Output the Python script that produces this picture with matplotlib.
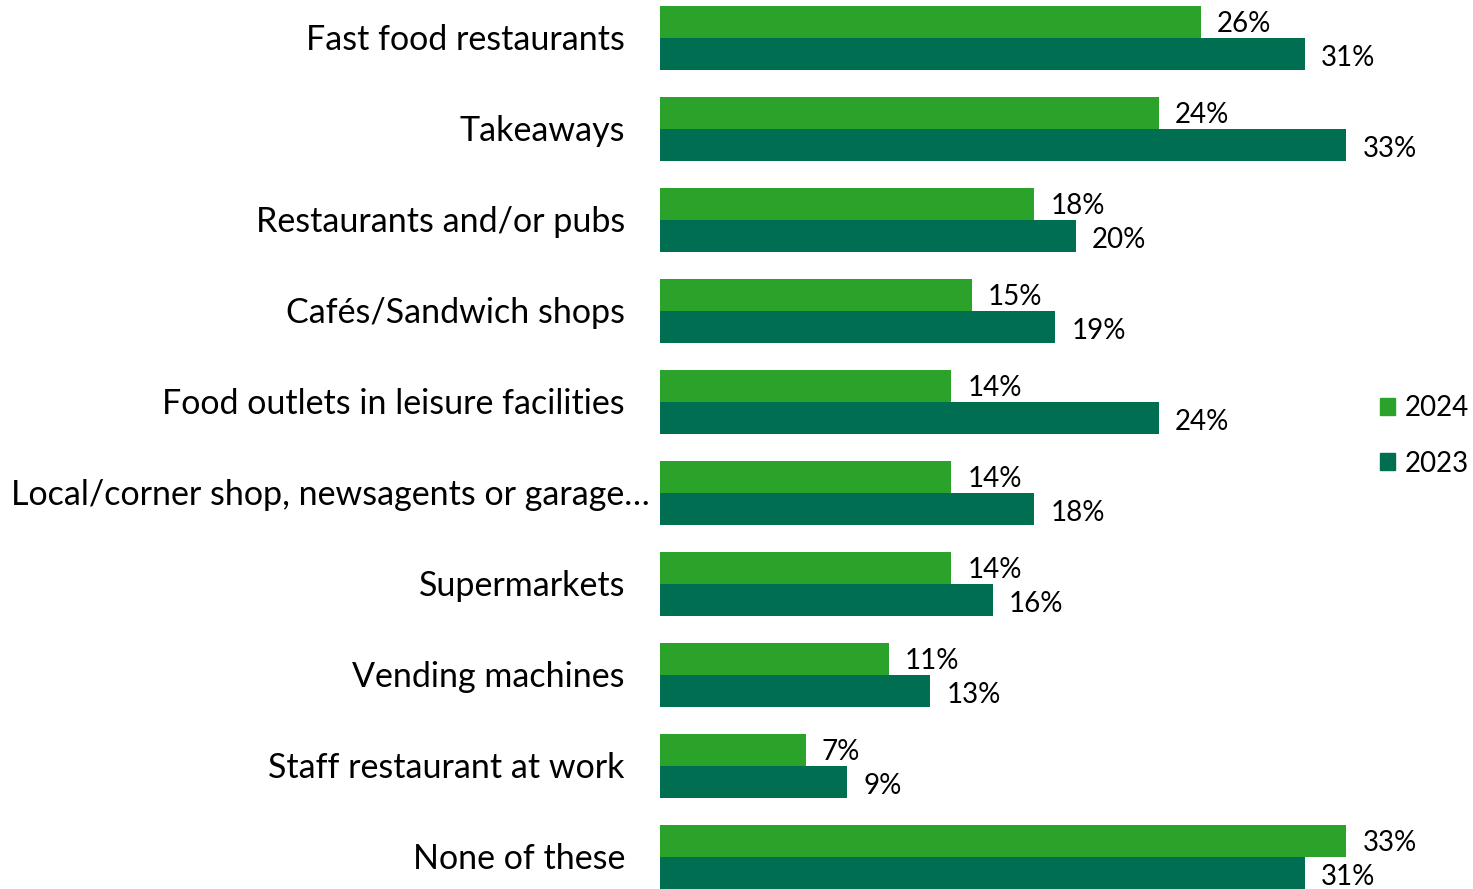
import numpy as np
import matplotlib.pyplot as plt
from matplotlib.patches import Patch

plt.rcParams['font.family'] = ['Lato', 'DejaVu Sans']

categories = ['Fast food restaurants', 'Takeaways', 'Restaurants and/or pubs',
              'Cafés/Sandwich shops', 'Food outlets in leisure facilities',
              'Local/corner shop, newsagents or garage…', 'Supermarkets',
              'Vending machines', 'Staff restaurant at work', 'None of these']
y2024 = [26, 24, 18, 15, 14, 14, 14, 11, 7, 33]
y2023 = [31, 33, 20, 19, 24, 18, 16, 13, 9, 31]

c2024 = '#2BA32B'
c2023 = '#006F51'

fig = plt.figure(figsize=(14.73, 8.89), dpi=100)
ax = fig.add_axes([660 / 1473, 0, 1 - 660 / 1473, 1])

pos = np.arange(len(categories))
h = 0.352
ax.barh(pos - h / 2, y2024, height=h, color=c2024)
ax.barh(pos + h / 2, y2023, height=h, color=c2023)

for p, v in zip(pos, y2024):
    ax.annotate(f'{v}%', xy=(v, p - h / 2), xytext=(16, -2), textcoords='offset pixels',
                va='center', ha='left', fontsize=20)
for p, v in zip(pos, y2023):
    ax.annotate(f'{v}%', xy=(v, p + h / 2), xytext=(16, -4), textcoords='offset pixels',
                va='center', ha='left', fontsize=20)

for p, name in zip(pos, categories):
    off = -10 if name.endswith('…') else -35
    ax.annotate(name, xy=(0, p), xycoords=('axes fraction', 'data'),
                xytext=(off, -2), textcoords='offset pixels',
                va='center', ha='right', fontsize=24.5)

ax.set_xlim(0, (1473 - 660) / 20.8)
ax.set_ylim(9.352, -0.418)
ax.axis('off')

handles = [Patch(color=c2024, label='2024'), Patch(color=c2023, label='2023')]
fig.legend(handles=handles, loc='center left', bbox_to_anchor=(1366 / 1473, 1 - 436 / 889),
           frameon=False, fontsize=20, handlelength=0.55, handleheight=0.55,
           handletextpad=0.35, labelspacing=1.05, borderpad=0)

fig.savefig('out.png', dpi=100)
